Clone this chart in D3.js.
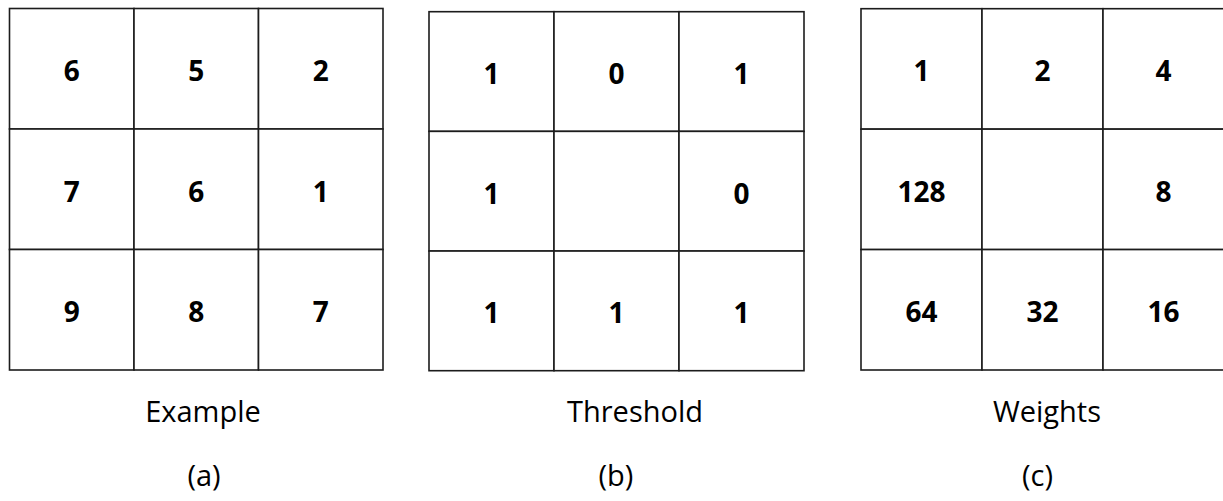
<!DOCTYPE html>
<html>
<head>
<meta charset="utf-8">
<script src="https://cdn.jsdelivr.net/npm/d3@7/dist/d3.min.js"></script>
<style>
  html, body { margin: 0; padding: 0; background: #fff; }
  svg { display: block; }
</style>
</head>
<body>
<svg id="chart" width="1223" height="501"></svg>
<script>
// ---- data ----
const rowIndex = [0, 1, 2];
const colIndex = [0, 1, 2];
const exampleValues = [[6, 5, 2], [7, 6, 1], [9, 8, 7]];
const thresholdValues = [[1, 0, 1], [1, null, 0], [1, 1, 1]];
const weightValues = [[1, 2, 4], [128, null, 8], [64, 32, 16]];
const panelTitles = ["Example", "Threshold", "Weights"];
const panelTags = ["(a)", "(b)", "(c)"];

// ---- layout (not data) ----
const panels = [
  { values: exampleValues,   x0: 9.5, x1: 383,  y0: 8.5,  y1: 370,   titleX: 203,  tagX: 204 },
  { values: thresholdValues, x0: 429, x1: 804,  y0: 11.7, y1: 370.7, titleX: 635,  tagX: 616 },
  { values: weightValues,    x0: 861, x1: 1224, y0: 8.7,  y1: 370,   titleX: 1047, tagX: 1037.5 }
];

const svg = d3.select("#chart");
const stroke = "#1c1c1c";

panels.forEach((p, i) => {
  const x = d3.scaleBand().domain(colIndex).range([p.x0, p.x1]);
  const y = d3.scaleBand().domain(rowIndex).range([p.y0, p.y1]);
  const g = svg.append("g");

  const cells = [];
  rowIndex.forEach(r => colIndex.forEach(c => cells.push({ r, c, v: p.values[r][c] })));

  g.selectAll("rect").data(cells).join("rect")
    .attr("x", d => x(d.c))
    .attr("y", d => y(d.r))
    .attr("width", x.bandwidth())
    .attr("height", y.bandwidth())
    .attr("fill", "#fff")
    .attr("stroke", stroke)
    .attr("stroke-width", 1.6);

  g.selectAll("text.val").data(cells.filter(d => d.v !== null)).join("text")
    .attr("class", "val")
    .attr("x", d => x(d.c) + x.bandwidth() / 2)
    .attr("y", d => y(d.r) + y.bandwidth() / 2 + 12.5)
    .attr("text-anchor", "middle")
    .attr("font-family", "'Open Sans', sans-serif")
    .attr("font-weight", "bold")
    .attr("font-size", 28)
    .attr("fill", "#000")
    .text(d => d.v);

  g.append("text")
    .attr("x", p.titleX)
    .attr("y", 421.5)
    .attr("text-anchor", "middle")
    .attr("font-family", "'Open Sans', sans-serif")
    .attr("font-size", 29)
    .attr("fill", "#000")
    .text(panelTitles[i]);

  g.append("text")
    .attr("x", p.tagX)
    .attr("y", 486)
    .attr("text-anchor", "middle")
    .attr("font-family", "'Open Sans', sans-serif")
    .attr("font-size", 29)
    .attr("fill", "#000")
    .text(panelTags[i]);
});
</script>
</body>
</html>
